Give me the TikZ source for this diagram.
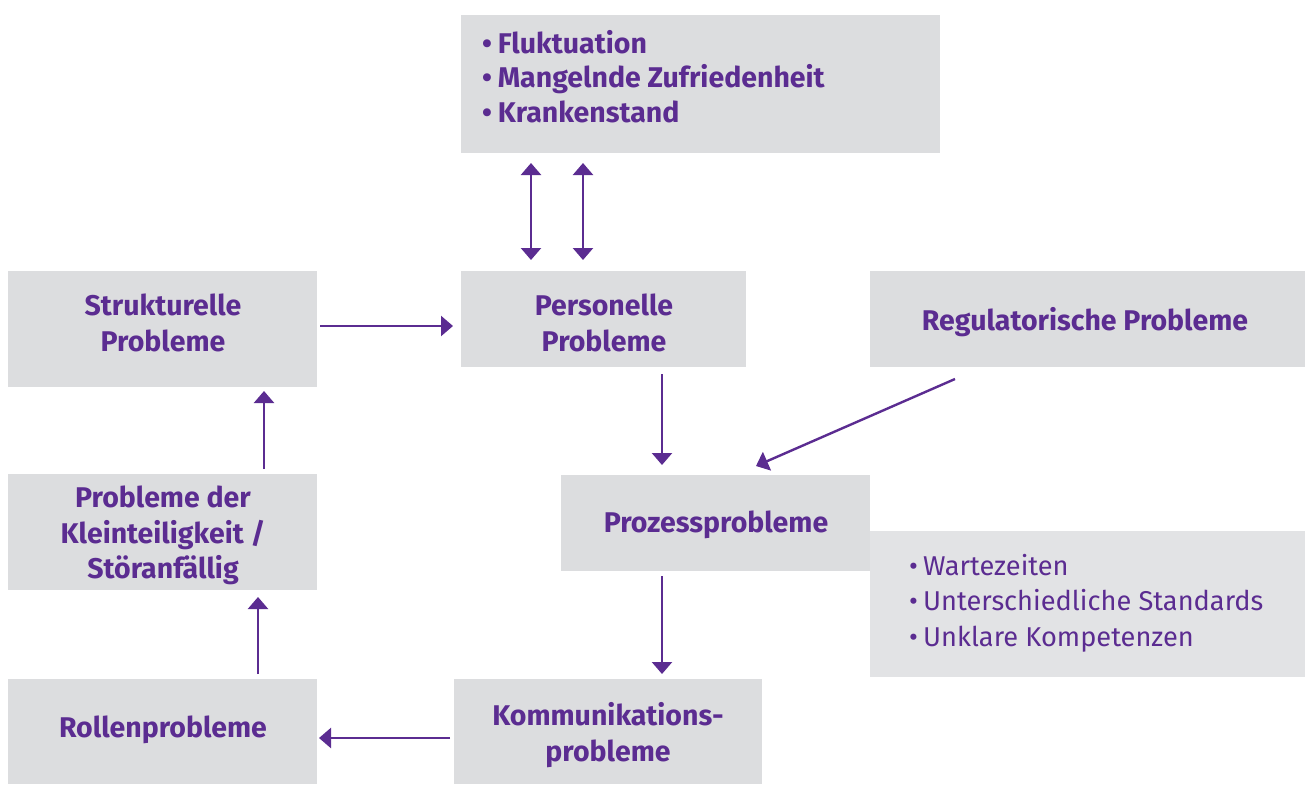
\documentclass[tikz,border=0pt]{standalone}
\usepackage{fontspec}
\setmainfont{Fira Sans}
\usetikzlibrary{arrows.meta}
\definecolor{purp}{RGB}{91,44,145}
\definecolor{boxgray}{RGB}{220,221,223}
\definecolor{boxlight}{RGB}{226,227,229}
\tikzset{
  box/.style={fill=boxgray, draw=none, inner sep=0pt, anchor=north west},
  lbl/.style={text=purp, font=\fontsize{28.5}{35.5}\selectfont\bfseries, align=center, inner sep=0pt},
  lbllist/.style={text=purp, align=left, inner sep=0pt, anchor=north west},
  conn/.style={draw=purp, line width=2.4pt, -{Triangle[width=20pt,length=12pt]}},
  dconn/.style={draw=purp, line width=2.4pt, {Triangle[width=20pt,length=12pt]}-{Triangle[width=20pt,length=12pt]}}
}
\begin{document}
\begin{tikzpicture}[x=1pt,y=-1pt]
\useasboundingbox (0,0) rectangle (1305,785);
% boxes
\node[box, minimum width=479pt, minimum height=138pt] (top) at (461,15) {};
\node[box, minimum width=309pt, minimum height=116pt] (strukt) at (8,271) {};
\node[box, minimum width=285pt, minimum height=96pt] (pers) at (461,271) {};
\node[box, minimum width=435pt, minimum height=96pt] (reg) at (870,271) {};
\node[box, fill=boxlight, minimum width=435pt, minimum height=146pt] (wart) at (870,531) {};
\node[box, minimum width=309pt, minimum height=96pt] (proz) at (561,475) {};
\node[box, minimum width=309pt, minimum height=116pt] (klein) at (8,474) {};
\node[box, minimum width=309pt, minimum height=105pt] (roll) at (8,679) {};
\node[box, minimum width=308pt, minimum height=105pt] (komm) at (454,679) {};
% texts
\node[lbllist, font=\fontsize{28.5}{34.5}\selectfont\bfseries] (toptxt) at (482,30) {•\hspace{-1pt} Fluktuation\\•\hspace{-1pt} Mangelnde Zufriedenheit\\•\hspace{-1pt} Krankenstand};
\node[lbllist, font=\fontsize{27.2}{35.5}\selectfont] (warttxt) at (909,554) {•\hspace{-2pt} Wartezeiten\\•\hspace{-2pt} Unterschiedliche Standards\\•\hspace{-2pt} Unklare Kompetenzen};
\node[lbl] (strukttxt) at (163,323) {Strukturelle\\Probleme};
\node[lbl] (perstxt) at (604,323) {Personelle\\Probleme};
\node[lbl] (regtxt) at (1085,322) {Regulatorische Probleme};
\node[lbl] (proztxt) at (716,525) {Prozessprobleme};
\node[lbl] (kleintxt) at (163,535.5) {Probleme der\\Kleinteiligkeit /\\Störanfällig};
\node[lbl] (rolltxt) at (163,730) {Rollenprobleme};
\node[lbl] (kommtxt) at (608,735) {Kommunikations-\\probleme};
% arrow end coordinates
\coordinate (d1a) at (531,163); \coordinate (d1b) at (531,260);
\coordinate (d2a) at (583,163); \coordinate (d2b) at (583,260);
\coordinate (sp1) at (320,326); \coordinate (sp2) at (453,326);
\coordinate (pp1) at (662,374); \coordinate (pp2) at (662,465);
\coordinate (rp1) at (955,379); \coordinate (rp2) at (756,466);
\coordinate (pk1) at (662,576); \coordinate (pk2) at (662,674);
\coordinate (kr1) at (450,738); \coordinate (kr2) at (319,738);
\coordinate (rk1) at (258,674); \coordinate (rk2) at (258,597);
\coordinate (ks1) at (264,469); \coordinate (ks2) at (264,391);
% connectors
\draw[dconn] (d1a) -- (d1b);
\draw[dconn] (d2a) -- (d2b);
\draw[conn] (sp1) -- (sp2);
\draw[conn] (pp1) -- (pp2);
\draw[conn] (rp1) -- (rp2);
\draw[conn] (pk1) -- (pk2);
\draw[conn] (kr1) -- (kr2);
\draw[conn] (rk1) -- (rk2);
\draw[conn] (ks1) -- (ks2);
\end{tikzpicture}
\end{document}
